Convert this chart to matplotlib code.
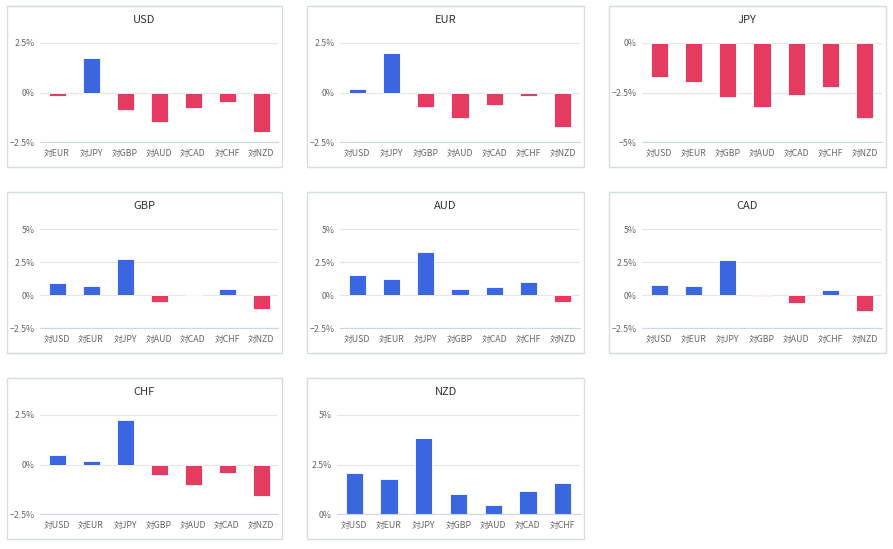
import matplotlib
matplotlib.use('Agg')
import matplotlib.pyplot as plt
from matplotlib.patches import Rectangle

plt.rcParams['font.family'] = ['Noto Sans CJK JP', 'DejaVu Sans']

# ---- data (percent change of each currency against the others) ----
usd_labels = ['対EUR', '対JPY', '対GBP', '対AUD', '対CAD', '対CHF', '対NZD']
usd_values = [-0.17, 1.72, -0.88, -1.5, -0.77, -0.5, -1.97]

eur_labels = ['対USD', '対JPY', '対GBP', '対AUD', '対CAD', '対CHF', '対NZD']
eur_values = [0.2, 2.0, -0.75, -1.28, -0.63, -0.2, -1.75]

jpy_labels = ['対USD', '対EUR', '対GBP', '対AUD', '対CAD', '対CHF', '対NZD']
jpy_values = [-1.73, -1.97, -2.73, -3.25, -2.65, -2.22, -3.77]

gbp_labels = ['対USD', '対EUR', '対JPY', '対AUD', '対CAD', '対CHF', '対NZD']
gbp_values = [0.88, 0.7, 2.7, -0.55, 0.03, 0.45, -1.05]

aud_labels = ['対USD', '対EUR', '対JPY', '対GBP', '対CAD', '対CHF', '対NZD']
aud_values = [1.5, 1.25, 3.22, 0.48, 0.6, 1.0, -0.5]

cad_labels = ['対USD', '対EUR', '対JPY', '対GBP', '対AUD', '対CHF', '対NZD']
cad_values = [0.78, 0.65, 2.62, -0.1, -0.6, 0.35, -1.2]

chf_labels = ['対USD', '対EUR', '対JPY', '対GBP', '対AUD', '対CAD', '対NZD']
chf_values = [0.5, 0.2, 2.23, -0.55, -1.05, -0.42, -1.58]

nzd_labels = ['対USD', '対EUR', '対JPY', '対GBP', '対AUD', '対CAD', '対CHF']
nzd_values = [2.05, 1.78, 3.82, 1.02, 0.45, 1.18, 1.57]

charts = [
    ('USD', usd_labels, usd_values, (-2.5, 2.5)),
    ('EUR', eur_labels, eur_values, (-2.5, 2.5)),
    ('JPY', jpy_labels, jpy_values, (-5, 0)),
    ('GBP', gbp_labels, gbp_values, (-2.5, 5)),
    ('AUD', aud_labels, aud_values, (-2.5, 5)),
    ('CAD', cad_labels, cad_values, (-2.5, 5)),
    ('CHF', chf_labels, chf_values, (-2.5, 2.5)),
    ('NZD', nzd_labels, nzd_values, (0, 5)),
]

BLUE = '#3a67e0'
RED = '#e63b61'
W, H = 893, 549

fig = plt.figure(figsize=(W / 100, H / 100), dpi=100)

col_left = [7, 307, 609]
col_width = [275, 277, 277]
row_top = [6, 192, 378]
panel_h = 161


def fmt(v):
    if v == 0:
        return '0%'
    s = ('%g' % abs(v)) + '%'
    return ('\u2212' + s) if v < 0 else s


for i, (title, labels, values, ylim) in enumerate(charts):
    r, c = divmod(i, 3)
    px, py, pw = col_left[c], row_top[r], col_width[c]

    # panel border
    fig.patches.append(Rectangle((px / W, 1 - (py + panel_h) / H), pw / W, panel_h / H,
                                 transform=fig.transFigure, fill=False,
                                 edgecolor='#d3e0e0', linewidth=1.0))

    left_pad = 30 if title == 'NZD' else 33
    ax_l = px + left_pad
    ax_r = px + pw - 4
    ax_t = py + 37
    ax_b = py + 136
    ax = fig.add_axes([ax_l / W, 1 - ax_b / H, (ax_r - ax_l) / W, (ax_b - ax_t) / H])

    x = range(len(values))
    colors = [BLUE if v >= 0 else RED for v in values]
    ax.bar(x, values, width=0.5, color=colors, edgecolor='white', linewidth=0.6, zorder=3)

    ax.set_xlim(-0.5, len(values) - 0.5)
    ax.set_ylim(*ylim)
    ticks = [ylim[0] + 2.5 * k for k in range(int((ylim[1] - ylim[0]) / 2.5) + 1)]
    ax.set_yticks(ticks)
    ax.set_yticklabels([fmt(t) for t in ticks])
    ax.set_xticks(list(x))
    ax.set_xticklabels(labels)

    ax.grid(axis='y', color='#e6e6e6', linewidth=0.8, zorder=0)
    for s in ['top', 'right', 'left']:
        ax.spines[s].set_visible(False)
    ax.spines['bottom'].set_color('#ccd6eb')
    ax.spines['bottom'].set_linewidth(0.8)
    ax.spines['bottom'].set_zorder(4)
    ax.tick_params(axis='both', length=0, labelsize=6.3, colors='#666666')
    ax.tick_params(axis='y', pad=4)
    ax.tick_params(axis='x', pad=5)

    fig.text((px + pw / 2) / W, 1 - (py + 14) / H, title, ha='center', va='center',
             fontsize=8, color='#333333')

fig.savefig('out.png', dpi=100)
